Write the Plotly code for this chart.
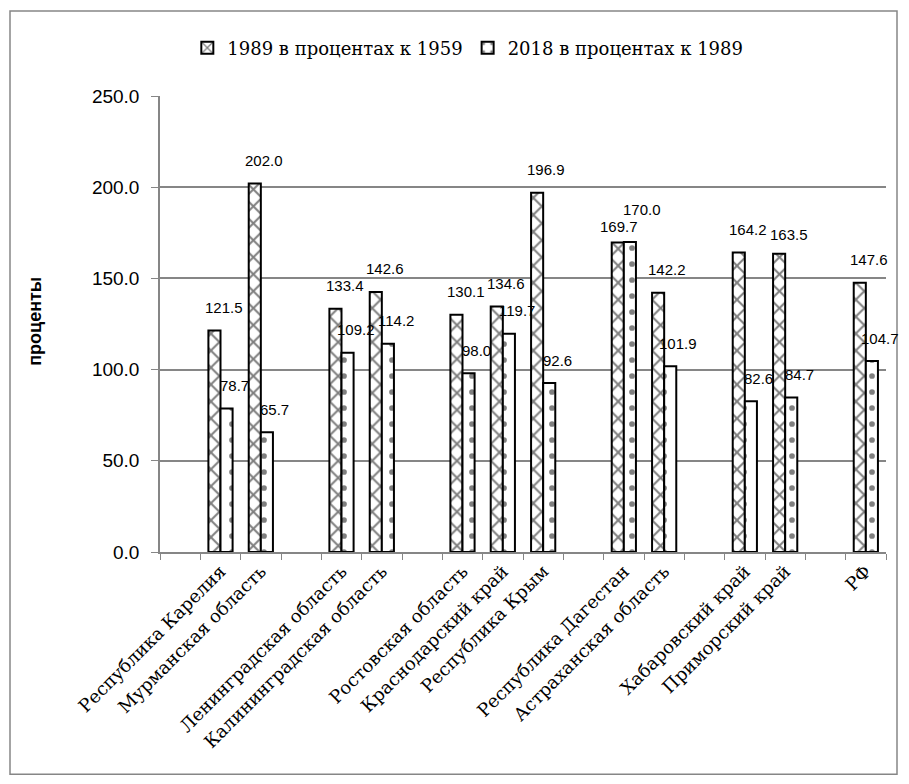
import plotly.graph_objects as go

# ---- data ----
categories = ["", "Республика Карелия", "Мурманская область", " ",
              "Ленинградская область", "Калининградская область", "  ",
              "Ростовская область", "Краснодарский край", "Республика Крым", "   ",
              "Республика Дагестан", "Астраханская область", "    ",
              "Хабаровский край", "Приморский край", "     ", "РФ"]
v1989 = [None, 121.5, 202.0, None, 133.4, 142.6, None, 130.1, 134.6, 196.9, None,
         169.7, 142.2, None, 164.2, 163.5, None, 147.6]
v2018 = [None, 78.7, 65.7, None, 109.2, 114.2, None, 98.0, 119.7, 92.6, None,
         170.0, 101.9, None, 82.6, 84.7, None, 104.7]
name1989 = "1989 в процентах к 1959"
name2018 = "2018 в процентах к 1989"
yticks = [0, 50, 100, 150, 200, 250]
ytitle = "проценты"

serif = "DejaVu Serif"
sans = "Liberation Sans"

# plot-area geometry (figure pixels; page body adds an 8px margin)
W, H = 893, 768
L, T, PW, PH = 152, 88, 726, 456.5

fig = go.Figure()
fig.add_trace(go.Bar(
    x=categories, y=v1989, name=name1989,
    marker=dict(color="white", line=dict(color="black", width=2),
                pattern=dict(shape="x", fgcolor="black", bgcolor="white",
                             size=12, solidity=0.3)),
))
fig.add_trace(go.Bar(
    x=categories, y=v2018, name=name2018,
    marker=dict(color="white", line=dict(color="black", width=2),
                pattern=dict(shape=".", fgcolor="black", bgcolor="white",
                             size=16, solidity=0.1)),
))

# label nudges (pixels) for crowded labels
nudge = {(0, "Республика Дагестан"): (-5, 16), (1, "Республика Дагестан"): (18, 32),
         (0, "Приморский край"): (4, 19)}
annotations = []
for si, (vals, dx) in enumerate(((v1989, 3), (v2018, 14))):
    for c, v in zip(categories, vals):
        if v is None:
            continue
        xs, ys = nudge.get((si, c), (dx, 23))
        annotations.append(dict(x=c, y=v, xref="x", yref="y", text=f"{v:.1f}",
                                showarrow=False, xshift=xs, yshift=ys,
                                yanchor="middle", xanchor="center",
                                font=dict(family=sans, size=15, color="black")))
annotations.append(dict(x=(27 - L) / PW, y=1 - (314 - T) / PH, xref="paper", yref="paper",
                        text=f"<b>{ytitle}</b>", textangle=-90, showarrow=False,
                        xanchor="center", yanchor="middle",
                        font=dict(family=sans, size=18, color="black")))

fig.update_layout(
    width=W, height=H,
    margin=dict(l=L, r=W - L - PW, t=T, b=H - T - PH),
    paper_bgcolor="white", plot_bgcolor="white",
    barmode="group", bargap=0.4, bargroupgap=0,
    showlegend=True,
    legend=dict(orientation="h", x=0.424, y=1 + (T - 40) / PH, xanchor="center", yanchor="middle",
                font=dict(family=serif, size=18, color="black"),
                itemwidth=30, traceorder="normal"),
    annotations=annotations,
    shapes=[dict(type="rect", xref="paper", yref="paper",
                 x0=(2 - L) / PW, x1=(889 - L) / PW,
                 y0=1 - (767 - T) / PH, y1=1 + (T - 3) / PH,
                 line=dict(color="#868686", width=1.5), fillcolor="rgba(0,0,0,0)",
                 layer="below")],
)
fig.update_xaxes(
    type="category", categoryorder="array", categoryarray=categories,
    range=[-0.5, len(categories) - 0.5], autorange=False,
    tickangle=-45, tickfont=dict(family=serif, size=18, color="black"),
    showline=True, linecolor="#868686", linewidth=1.5,
    ticks="outside", tickson="boundaries", ticklen=6, tickcolor="#868686",
    showgrid=False, zeroline=False,
)
fig.update_yaxes(
    range=[0, 250], tickvals=yticks, tickformat=".1f",
    tickfont=dict(family=sans, size=19, color="black"),
    showline=True, linecolor="#868686", linewidth=1.5,
    ticks="outside", ticklen=7, tickcolor="#868686", ticklabelstandoff=8,
    showgrid=True, gridcolor="#868686", gridwidth=1.5, zeroline=False,
)

fig.write_html("out.html")
